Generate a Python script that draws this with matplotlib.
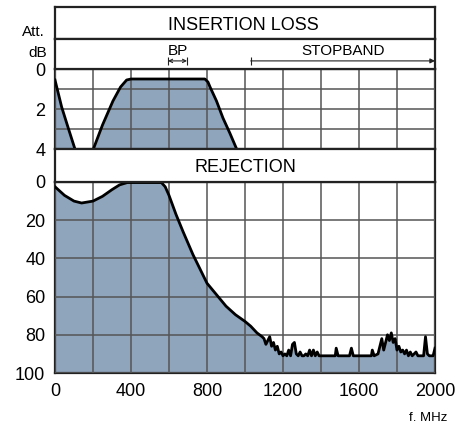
import matplotlib.pyplot as plt

plt.rcParams['font.family'] = ['Liberation Sans', 'DejaVu Sans']

# insertion loss (dB) vs frequency (MHz)
il_low_f = [0, 35, 68, 105]
il_low_db = [0.55, 1.9, 2.9, 4.0]
il_bp_f = [202, 250, 305, 345, 377, 400, 600, 789, 805, 816, 850, 884, 920, 956]
il_bp_db = [4.0, 2.8, 1.6, 0.9, 0.55, 0.5, 0.5, 0.5, 0.65, 0.9, 1.6, 2.45, 3.2, 4.0]

# rejection (dB) vs frequency (MHz)
rej_f = [0, 50, 100, 140, 200, 250, 300, 340, 380, 560, 580, 600, 637, 674, 726, 800,
         850, 900, 950, 1000, 1030, 1063, 1090,
         1100, 1110, 1120, 1130, 1140, 1150, 1160, 1170, 1180, 1190, 1200, 1210, 1220,
         1230, 1240, 1250, 1260, 1270, 1280, 1290, 1300, 1310, 1320, 1330, 1340, 1350,
         1360, 1370, 1380, 1390, 1400, 1420, 1440, 1460, 1475, 1480, 1490, 1520, 1550,
         1560, 1570, 1600, 1640, 1665, 1670, 1680, 1700, 1710, 1720, 1730, 1740, 1750,
         1760, 1770, 1780, 1790, 1800, 1810, 1820, 1830, 1840, 1850, 1860, 1870, 1880,
         1900, 1910, 1930, 1940, 1950, 1960, 1970, 1990, 2000]
rej_db = [2.5, 7, 10, 11, 10, 7.5, 4, 1.5, 0.3, 0.3, 2.5, 7, 17, 26, 38, 53,
          59, 65, 69.5, 73, 75.5, 79, 81,
          82, 85, 83, 81, 86, 84, 88, 86, 90, 89, 91, 90, 91,
          88, 91, 85, 84, 90, 91, 89, 91, 91, 90, 91, 88, 91,
          88, 91, 89, 91, 91, 91, 91, 91, 91, 87, 91, 91, 91,
          87, 91, 91, 91, 91, 88, 91, 90, 86, 82, 88, 84, 80,
          83, 79, 84, 82, 88, 86, 89, 88, 90, 88, 91, 89, 91,
          89, 91, 91, 91, 81, 90, 91, 91, 87]

fill_col = '#8fa5bc'
grid_col = '#555555'
edge_col = '#222222'

W, H = 460, 426
fig = plt.figure(figsize=(W / 100, H / 100), dpi=100)


def box(top, bottom):
    return [55 / W, 1 - bottom / H, 380 / W, (bottom - top) / H]


ax_il = fig.add_axes(box(69, 149))
ax_rej = fig.add_axes(box(182, 373))
hd1 = fig.add_axes(box(7, 39))
hd2 = fig.add_axes(box(39, 69))
hd3 = fig.add_axes(box(149, 182))

for ax in [ax_il, ax_rej, hd1, hd2, hd3]:
    ax.set_xlim(0, 2000)
    for s in ax.spines.values():
        s.set_linewidth(1.6)
        s.set_color(edge_col)

# top panel
ax_il.fill_between(il_low_f, il_low_db, 4, color=fill_col, lw=0)
ax_il.fill_between(il_bp_f, il_bp_db, 4, color=fill_col, lw=0)
ax_il.plot(il_low_f, il_low_db, color='black', lw=2, zorder=3)
ax_il.plot(il_bp_f, il_bp_db, color='black', lw=2, zorder=3, solid_joinstyle='round')
ax_il.set_ylim(4, 0)
ax_il.set_yticks([0, 2, 4])
ax_il.set_yticks([1, 3], minor=True)
ax_il.set_xticks(range(0, 2001, 400))
ax_il.set_xticks(range(200, 2000, 400), minor=True)
ax_il.tick_params(axis='x', which='both', length=0, labelbottom=False)

# bottom panel
ax_rej.fill_between(rej_f, rej_db, 100, color=fill_col, lw=0)
ax_rej.plot(rej_f, rej_db, color='black', lw=2, zorder=3, solid_joinstyle='round')
ax_rej.set_ylim(100, 0)
ax_rej.set_yticks(range(0, 101, 20))
ax_rej.set_xticks(range(0, 2001, 400))
ax_rej.set_xticks(range(200, 2000, 400), minor=True)
ax_rej.tick_params(axis='x', which='both', length=0, labelsize=13, pad=7)

for ax in [ax_il, ax_rej]:
    ax.set_axisbelow(False)
    ax.grid(True, which='both', color=grid_col, lw=1.1)
    ax.tick_params(axis='y', which='both', length=0, labelsize=13, pad=7)
    ax.tick_params(axis='x', which='minor', length=0)

# header boxes
for ax in [hd1, hd2, hd3]:
    ax.set_ylim(0, 1)
    ax.set_xticks([])
    ax.set_yticks([])

hd1.text(989, 0.42, 'INSERTION LOSS', ha='center', va='center', fontsize=13)
hd3.text(1000, 0.45, 'REJECTION', ha='center', va='center', fontsize=13)
hd2.text(645, 0.6, 'BP', ha='center', va='center', fontsize=11)
hd2.text(1516, 0.6, 'STOPBAND', ha='center', va='center', fontsize=11)

hd2.annotate('', xy=(595, 0.27), xytext=(695, 0.27),
             arrowprops=dict(arrowstyle='<->', lw=0.8, color=edge_col,
                             shrinkA=0, shrinkB=0, mutation_scale=6))
hd2.vlines([595, 695], 0.15, 0.4, color=edge_col, lw=0.8)
hd2.annotate('', xy=(2000, 0.27), xytext=(1030, 0.27),
             arrowprops=dict(arrowstyle='-|>', lw=0.8, color=edge_col,
                             shrinkA=0, shrinkB=0, mutation_scale=7))
hd2.vlines([1030], 0.15, 0.4, color=edge_col, lw=0.8)

fig.text(33 / W, 1 - 32 / H, 'Att.', ha='center', va='center', fontsize=11)
fig.text(47 / W, 1 - 53 / H, 'dB', ha='right', va='center', fontsize=11)
fig.text(428 / W, 1 - 418 / H, 'f. MHz', ha='center', va='center', fontsize=9.5)

fig.savefig('out.png', dpi=100)
